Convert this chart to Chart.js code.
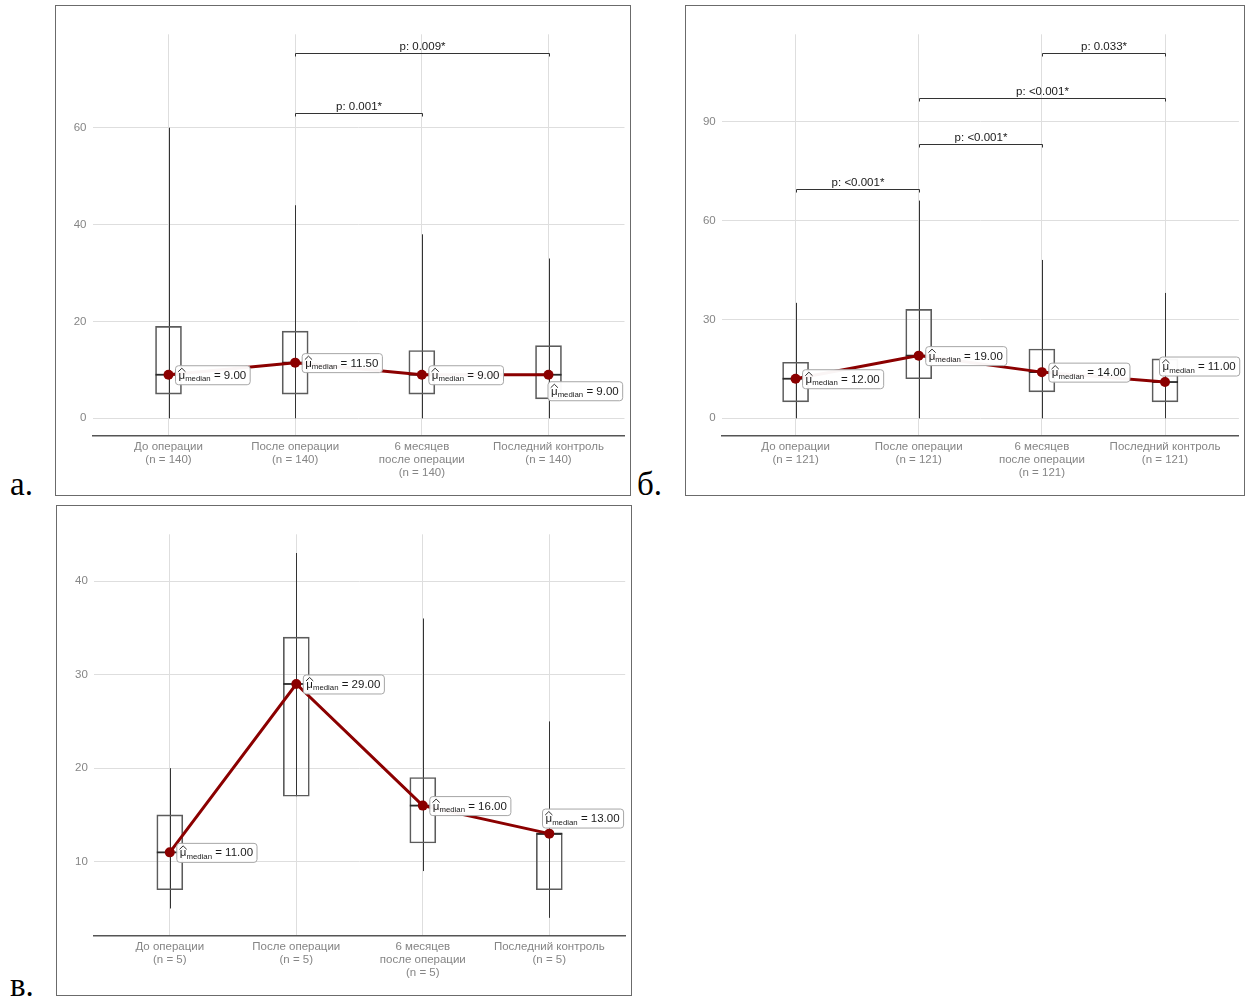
<!DOCTYPE html>
<html>
<head>
<meta charset="utf-8">
<script src="https://cdn.jsdelivr.net/npm/chart.js@4.4.1/dist/chart.umd.min.js"></script>
<style>
  html, body { margin: 0; padding: 0; background: #fff; }
  body { width: 1248px; height: 999px; position: relative; overflow: hidden; }
  .panel { position: absolute; box-sizing: border-box; border: 1px solid #6b6b6b; background: #fff; }
  .panel canvas { position: absolute; left: 0; top: 0; }
  .tag { position: absolute; font-family: "Liberation Serif", "Times New Roman", serif; font-size: 33px; line-height: 33px; color: #000; }
</style>
</head>
<body>
<div class="panel" style="left:55px;top:5px;width:576px;height:491px;"><canvas id="chartA" width="574" height="489"></canvas></div>
<div class="panel" style="left:685px;top:5px;width:560px;height:491px;"><canvas id="chartB" width="558" height="489"></canvas></div>
<div class="panel" style="left:56px;top:505px;width:576px;height:491px;"><canvas id="chartC" width="574" height="489"></canvas></div>
<div class="tag" style="left:10px;top:468px;">а.</div>
<div class="tag" style="left:637px;top:468px;">б.</div>
<div class="tag" style="left:10px;top:969px;">в.</div>

<script>
// Time points (x axis)
const categoryNames = [['До операции'], ['После операции'], ['6 месяцев', 'после операции'], ['Последний контроль']];

// Panel а (n = 140)
const aN = 140;
const aMin = [0, 0, 0, 0];
const aQ1 = [5, 5, 5, 4];
const aMedian = [9, 11.5, 9, 9];
const aQ3 = [19, 18, 14, 15];
const aMax = [60, 44, 38, 33];
const aTicks = [0, 20, 40, 60];
const aPairs = [[2, 3], [2, 4]];
const aPText = ['p: 0.001*', 'p: 0.009*'];

// Panel б (n = 121)
const bN = 121;
const bMin = [0, 0, 0, 0];
const bQ1 = [5, 12, 8, 5];
const bMedian = [12, 19, 14, 11];
const bQ3 = [17, 33, 21, 18];
const bMax = [35, 66, 48, 38];
const bTicks = [0, 30, 60, 90];
const bPairs = [[1, 2], [2, 3], [2, 4], [3, 4]];
const bPText = ['p: <0.001*', 'p: <0.001*', 'p: <0.001*', 'p: 0.033*'];

// Panel в (n = 5)
const cN = 5;
const cMin = [5, 17, 9, 4];
const cQ1 = [7, 17, 12, 7];
const cMedian = [11, 29, 16, 13];
const cQ3 = [15, 34, 19, 13];
const cMax = [20, 43, 36, 25];
const cTicks = [10, 20, 30, 40];
const cPairs = [];
const cPText = [];

const FONT = '"Liberation Sans", Arial, Helvetica, sans-serif';
const DARK_RED = '#8b0000';

function drawMedianLabel(ctx, px, py, value, nudge) {
  const mainFont = '11.5px ' + FONT;
  const subFont = '7.8px ' + FONT;
  ctx.font = mainFont;
  const muW = ctx.measureText('μ').width;
  const rest = ' = ' + value.toFixed(2);
  const restW = ctx.measureText(rest).width;
  ctx.font = subFont;
  const subW = ctx.measureText('median').width;
  const padX = 3.5;
  const w = padX * 2 + muW + subW + restW;
  const h = 19;
  const left = px + 6.5 + nudge[0];
  const cy = py + nudge[1];
  const top = cy - h / 2;
  ctx.beginPath();
  ctx.roundRect(left + 0.5, top + 0.5, w, h, 3);
  ctx.fillStyle = 'rgba(255,255,255,0.96)';
  ctx.fill();
  ctx.strokeStyle = '#a6a6a6';
  ctx.lineWidth = 1;
  ctx.stroke();
  ctx.fillStyle = '#1a1a1a';
  ctx.textAlign = 'left';
  ctx.textBaseline = 'alphabetic';
  let x = left + padX;
  ctx.font = mainFont;
  ctx.fillText('μ', x, cy + 4);
  // hat over mu
  ctx.beginPath();
  ctx.moveTo(x - 0.3, cy - 3);
  ctx.lineTo(x + muW / 2, cy - 6.5);
  ctx.lineTo(x + muW + 0.3, cy - 3);
  ctx.strokeStyle = '#1a1a1a';
  ctx.lineWidth = 0.9;
  ctx.stroke();
  x += muW;
  ctx.font = subFont;
  ctx.fillText('median', x, cy + 6.5);
  x += subW;
  ctx.font = mainFont;
  ctx.fillText(rest, x, cy + 4);
}

const boxStatsPlugin = {
  id: 'boxStats',
  beforeDatasetsDraw(chart, args, opts) {
    const { ctx, scales: { x, y } } = chart;
    ctx.save();
    ctx.strokeStyle = '#333';
    ctx.lineWidth = 1;
    opts.min.forEach((v, i) => {
      const px = Math.round(x.getPixelForValue(i + 1)) + 0.5;
      ctx.beginPath();
      ctx.moveTo(px, y.getPixelForValue(v));
      ctx.lineTo(px, y.getPixelForValue(opts.max[i]));
      ctx.stroke();
    });
    ctx.restore();
  },
  afterDatasetDraw(chart, args, opts) {
    if (args.index !== 0) return;
    const { ctx, scales: { y } } = chart;
    const meta = chart.getDatasetMeta(0);
    ctx.save();
    ctx.strokeStyle = '#2a2a2a';
    ctx.lineWidth = 1.8;
    meta.data.forEach((bar, i) => {
      const half = bar.width / 2;
      const py = y.getPixelForValue(opts.median[i]);
      ctx.beginPath();
      ctx.moveTo(bar.x - half, py);
      ctx.lineTo(bar.x + half, py);
      ctx.stroke();
    });
    ctx.restore();
  },
  afterDatasetsDraw(chart, args, opts) {
    const { ctx, scales: { x, y } } = chart;
    ctx.save();
    // significance brackets
    opts.pairs.forEach((pair, k) => {
      const x1 = Math.round(x.getPixelForValue(pair[0])) + 0.5;
      const x2 = Math.round(x.getPixelForValue(pair[1])) + 0.5;
      const py = Math.round(y.getPixelForValue(opts.levels[k])) + 0.5;
      ctx.beginPath();
      ctx.moveTo(x1, py + 3);
      ctx.lineTo(x1, py);
      ctx.lineTo(x2, py);
      ctx.lineTo(x2, py + 3);
      ctx.strokeStyle = '#333';
      ctx.lineWidth = 1;
      ctx.stroke();
      ctx.font = '11.5px ' + FONT;
      ctx.fillStyle = '#1a1a1a';
      ctx.textAlign = 'center';
      ctx.textBaseline = 'alphabetic';
      ctx.fillText(opts.pText[k], (x1 + x2) / 2, py - 4);
    });
    // median labels
    const meta = chart.getDatasetMeta(1);
    meta.data.forEach((pt, i) => {
      drawMedianLabel(ctx, pt.x, pt.y, opts.median[i], opts.nudge[i]);
    });
    ctx.restore();
  }
};

function makeChart(id, s) {
  const ctx = document.getElementById(id);
  return new Chart(ctx, {
    type: 'line',
    data: {
      datasets: [
        {
          type: 'bar',
          data: s.q1.map((v, i) => ({ x: i + 1, y: [v, s.q3[i]] })),
          backgroundColor: 'rgba(255,255,255,0)',
          borderColor: '#5c5c5c',
          borderWidth: 1,
          borderSkipped: false,
          barThickness: 26,
          grouped: false,
          order: 1
        },
        {
          type: 'line',
          data: s.median.map((v, i) => ({ x: i + 1, y: v })),
          borderColor: DARK_RED,
          borderWidth: 3,
          pointRadius: 5,
          pointBackgroundColor: DARK_RED,
          pointBorderColor: DARK_RED,
          pointBorderWidth: 0,
          tension: 0,
          order: 0
        }
      ]
    },
    options: {
      responsive: false,
      animation: false,
      devicePixelRatio: 1,
      layout: { padding: { left: 0, right: s.padRight, top: 28.3, bottom: 0 } },
      plugins: {
        legend: { display: false },
        tooltip: { enabled: false },
        boxStats: {
          min: s.min, max: s.max, median: s.median,
          pairs: s.pairs, pText: s.pText, levels: s.levels, nudge: s.nudge
        }
      },
      scales: {
        x: {
          type: 'linear',
          min: 0.4,
          max: 4.6,
          offset: false,
          afterBuildTicks: sc => { sc.ticks = categoryNames.map((_, i) => ({ value: i + 1 })); },
          afterFit: sc => { sc.height = 59; },
          grid: { display: true, color: '#dedede', lineWidth: 1, drawTicks: false, offset: false },
          border: { display: true, color: '#555', width: 1.5 },
          ticks: {
            autoSkip: false,
            maxRotation: 0,
            minRotation: 0,
            padding: 5,
            color: '#858585',
            font: { family: FONT, size: 11.5, lineHeight: 1.09 },
            callback: v => [...categoryNames[v - 1], '(n = ' + s.n + ')']
          }
        },
        y: {
          type: 'linear',
          min: s.yMin,
          max: s.yMax,
          afterBuildTicks: sc => { sc.ticks = s.ticks.map(v => ({ value: v })); },
          afterFit: sc => { sc.width = s.axisW; },
          grid: { display: true, color: '#dedede', lineWidth: 1, drawTicks: false },
          border: { display: false },
          ticks: {
            padding: 6,
            color: '#858585',
            font: { family: FONT, size: 11.5 },
            callback: v => String(v)
          }
        }
      }
    },
    plugins: [boxStatsPlugin]
  });
}

makeChart('chartA', {
  n: aN, min: aMin, q1: aQ1, median: aMedian, q3: aQ3, max: aMax, ticks: aTicks,
  pairs: aPairs, pText: aPText, levels: [63, 75.5],
  yMin: -3.65, yMax: 79.3, axisW: 36.5, padRight: 5.5,
  nudge: [[0, 0], [0, 0], [0, 0], [-7.5, 16]]
});

makeChart('chartB', {
  n: bN, min: bMin, q1: bQ1, median: bMedian, q3: bQ3, max: bMax, ticks: bTicks,
  pairs: bPairs, pText: bPText, levels: [69.4, 83.1, 97.0, 110.8],
  yMin: -5.36, yMax: 116.4, axisW: 35.7, padRight: 5.1,
  nudge: [[0, 0], [0, 0], [0, 0], [-12.5, -16]]
});

makeChart('chartC', {
  n: cN, min: cMin, q1: cQ1, median: cMedian, q3: cQ3, max: cMax, ticks: cTicks,
  pairs: cPairs, pText: cPText, levels: [],
  yMin: 2.06, yMax: 45, axisW: 36.9, padRight: 5.8,
  nudge: [[0, 0], [0, 0], [0, 0], [-13.8, -15.6]]
});
</script>
</body>
</html>
